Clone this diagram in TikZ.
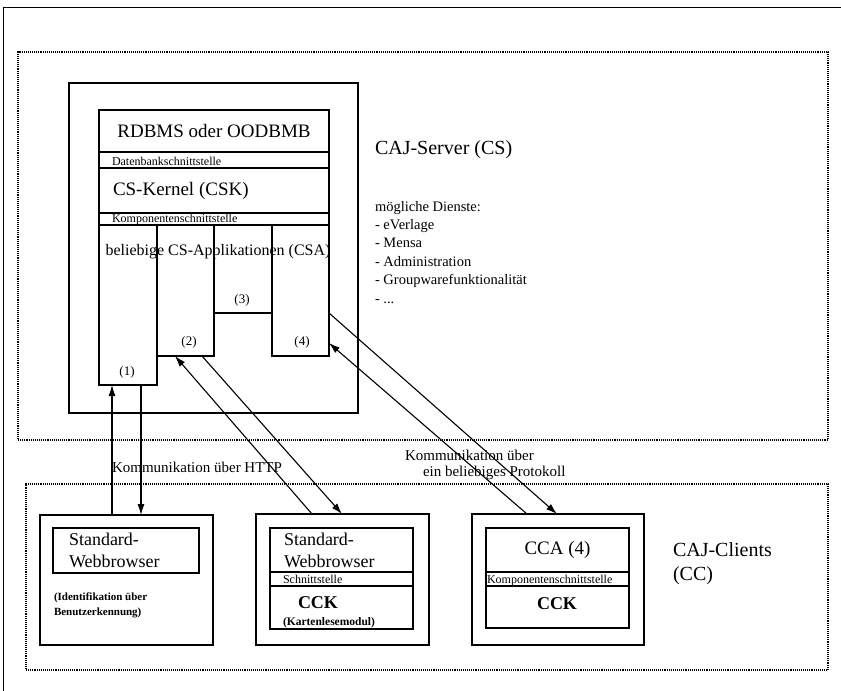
\documentclass[tikz,border=0pt]{standalone}
\usepackage{fontspec}
\setmainfont{Liberation Serif}
\usetikzlibrary{arrows.meta,calc}
\begin{document}
\begin{tikzpicture}[x=1pt,y=-1pt,
  box/.style={draw, line width=1.2pt, inner sep=0pt, outer sep=0pt, anchor=north west},
  zone/.style={draw, densely dotted, line width=1.1pt, inner sep=0pt, outer sep=0pt, anchor=north west},
  arr/.style={line width=1.1pt, -{Latex[length=11pt,width=7pt]}},
  txt/.style={inner sep=0pt, outer sep=0pt},
  big/.style={txt, font=\fontsize{19}{22}\selectfont},
  small/.style={txt, font=\fontsize{12}{14}\selectfont},
]
\useasboundingbox (0,0) rectangle (841,691);
% page frame (top and left)
\coordinate (ftr) at (841,7);
\coordinate (ftl) at (3,7);
\coordinate (fbl) at (3,691);
\draw[line width=1pt] (ftr) -- (ftl) -- (fbl);

% zones
\node[zone, minimum width=810pt, minimum height=388pt] (zserver) at (18,52) {};
\node[zone, minimum width=802pt, minimum height=186pt] (zclients) at (26,484) {};

% server box
\node[box, minimum width=289pt, minimum height=330pt] (server) at (69,83) {};
\node[box, minimum width=230pt, minimum height=42pt] (rdb) at (99,110) {};
\node[box, minimum width=230pt, minimum height=16pt] (dbif) at (99,152) {};
\node[box, minimum width=230pt, minimum height=45pt] (csk) at (99,168) {};
\node[box, minimum width=230pt, minimum height=12pt] (kif) at (99,213) {};
\node[box, minimum width=58pt, minimum height=160pt] (c1) at (99,225) {};
\node[box, minimum width=57pt, minimum height=131pt] (c2) at (157,225) {};
\node[box, minimum width=58pt, minimum height=88pt] (c3) at (214,225) {};
\node[box, minimum width=57pt, minimum height=131pt] (c4) at (272,225) {};

\node[big] (trdb) at (rdb.center) {RDBMS oder OODBMB};
\node[small, anchor=base west] (tdbif) at (112,165) {Datenbankschnittstelle};
\node[big, anchor=west] (tcsk) at (113,191) {CS-Kernel (CSK)};
\node[small, anchor=base west] (tkif) at (112,222) {Komponentenschnittstelle};
\node[txt, font=\fontsize{16}{19}\selectfont] (tcsa) at (218,252) {beliebige CS-Applikationen (CSA)};
\node[txt, font=\fontsize{13}{15}\selectfont] (t1) at (127,372) {(1)};
\node[txt, font=\fontsize{13}{15}\selectfont] (t2) at (189,342) {(2)};
\node[txt, font=\fontsize{13}{15}\selectfont] (t3) at (242,300) {(3)};
\node[txt, font=\fontsize{13}{15}\selectfont] (t4) at (302,342) {(4)};

\node[txt, anchor=west, font=\fontsize{20}{24}\selectfont] (tserver) at (375,150) {CAJ-Server (CS)};
\node[txt, anchor=north west, align=left, font=\fontsize{14.5}{18.4}\selectfont] (dienste) at (375,201)
  {mögliche Dienste:\\- eVerlage\\- Mensa\\- Administration\\- Groupwarefunktionalität\\- ...};

% clients
\node[box, minimum width=173pt, minimum height=130pt] (b1) at (40,515) {};
\node[box, minimum width=146pt, minimum height=45pt] (wb1) at (53,528) {};
\node[txt, anchor=west, align=left, font=\fontsize{18}{22}\selectfont] (twb1) at (69,550) {Standard-\\Webbrowser};
\node[txt, anchor=north west, align=left, font=\bfseries\fontsize{11}{15}\selectfont] (tid) at (54,593) {(Identifikation über\\Benutzerkennung)};

\node[box, minimum width=173pt, minimum height=131pt] (b2) at (256,514) {};
\node[box, minimum width=143pt, minimum height=44pt] (wb2) at (270,528) {};
\node[box, minimum width=143pt, minimum height=14pt] (sif) at (270,572) {};
\node[box, minimum width=143pt, minimum height=43pt] (cck2) at (270,586) {};
\node[txt, anchor=west, align=left, font=\fontsize{18}{22}\selectfont] (twb2) at (284,550) {Standard-\\Webbrowser};
\node[small, anchor=base west] (tsif) at (283,583) {Schnittstelle};
\node[txt, font=\bfseries\fontsize{18}{21}\selectfont] (tcck2) at (318,603) {CCK};
\node[txt, anchor=base west, font=\bfseries\fontsize{11.5}{14}\selectfont] (tkl) at (283,625) {(Kartenlesemodul)};

\node[box, minimum width=172pt, minimum height=131pt] (b3) at (472,514) {};
\node[box, minimum width=143pt, minimum height=44pt] (cca) at (486,528) {};
\node[box, minimum width=143pt, minimum height=14pt] (kif2) at (486,572) {};
\node[box, minimum width=143pt, minimum height=42pt] (cck3) at (486,586) {};
\node[txt, font=\fontsize{19}{22}\selectfont] (tcca) at (cca.center) {CCA (4)};
\node[small, anchor=base west] (tkif2) at (487,583) {Komponentenschnittstelle};
\node[txt, font=\bfseries\fontsize{18}{21}\selectfont] (tcck3) at (557,604) {CCK};

\node[txt, anchor=north west, align=left, font=\fontsize{20}{24}\selectfont] (tclients) at (673,543) {CAJ-Clients\\(CC)};

% communication labels
\node[txt, anchor=west, font=\fontsize{15}{18}\selectfont] (thttp) at (112,467) {Kommunikation über HTTP};
\node[txt, anchor=west, font=\fontsize{15}{18}\selectfont] (tprot1) at (405,455) {Kommunikation über};
\node[txt, anchor=west, font=\fontsize{15}{18}\selectfont] (tprot2) at (423,473) {ein beliebiges Protokoll};

% arrows
\draw[arr] ([xshift=72pt]b1.north west) -- ([xshift=13pt]c1.south west);
\draw[arr] ([xshift=42pt]c1.south west) -- ([xshift=101pt]b1.north west);
\draw[arr] ([xshift=56pt]b2.north west) -- ([xshift=18pt]c2.south west);
\draw[arr] ([xshift=45pt]c2.south west) -- ([xshift=86pt]b2.north west);
\draw[arr] ([xshift=55pt]b3.north west) -- ([yshift=-118pt]c4.north east);
\draw[arr] ([yshift=-88pt]c4.north east) -- ([xshift=85pt]b3.north west);
\end{tikzpicture}
\end{document}
